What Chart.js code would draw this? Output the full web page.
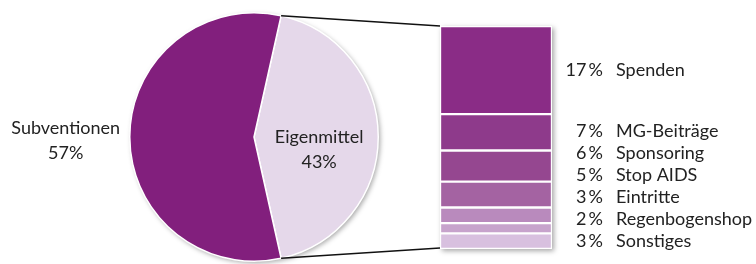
<!DOCTYPE html>
<html>
<head>
<meta charset="utf-8">
<script src="https://cdn.jsdelivr.net/npm/chart.js@4"></script>
<style>
  body { margin: 0; background: #fff; }
  #wrap { position: relative; width: 756px; height: 264px; }
  #wrap canvas { position: absolute; top: 0; }
</style>
</head>
<body>
<div id="wrap">
  <canvas id="pie" width="420" height="264" style="left:0"></canvas>
  <canvas id="bar" width="336" height="264" style="left:420px"></canvas>
  <canvas id="lines" width="756" height="264" style="left:0;pointer-events:none"></canvas>
</div>
<script>
// Gesamtfinanzierung
const pieLabels = ['Eigenmittel', 'Subventionen'];
const pieValues = [43, 57];
const pieColors = ['#E5D8EA', '#821F7D'];

// Aufteilung Eigenmittel
const barLabels = ['Spenden', 'MG-Beiträge', 'Sponsoring', 'Stop AIDS', 'Eintritte', 'Regenbogenshop', 'Sonstiges'];
const barValues = [17, 7, 6, 5, 3, 2, 3];
const barColors = ['#8A2C86', '#8E3A8B', '#954790', '#A463A2', '#B98ABD', '#C7A3CC', '#D8C0DF'];

const schrift = '"Source Sans Pro", Lato, sans-serif';
const textFarbe = '#222';
const pieTotal = pieValues.reduce((a, b) => a + b, 0);

// Schatten hinter Kreis bzw. Balken
const schatten = {
  id: 'schatten',
  beforeDatasetsDraw(chart) {
    const ctx = chart.ctx;
    const el = chart.getDatasetMeta(0).data[0];
    ctx.save();
    ctx.shadowColor = 'rgba(0,0,0,0.35)';
    ctx.shadowBlur = 5;
    ctx.shadowOffsetX = 2;
    ctx.shadowOffsetY = 2;
    ctx.fillStyle = '#fff';
    if (chart.config.type === 'pie') {
      ctx.beginPath();
      ctx.arc(el.x, el.y, el.outerRadius, 0, Math.PI * 2);
      ctx.fill();
    } else {
      const a = chart.chartArea;
      ctx.fillRect(a.left, a.top, a.right - a.left, a.bottom - a.top);
    }
    ctx.restore();
  }
};

// Beschriftung Kreis
const pieText = {
  id: 'pieText',
  afterDatasetsDraw(chart) {
    const ctx = chart.ctx;
    const arcs = chart.getDatasetMeta(0).data;
    ctx.save();
    ctx.font = '18px ' + schrift;
    ctx.fillStyle = textFarbe;
    ctx.textAlign = 'center';
    ctx.textBaseline = 'middle';
    arcs.forEach((arc, i) => {
      const pct = Math.round(pieValues[i] / pieTotal * 100) + '%';
      let x, y;
      if (i === 0) {
        const p = arc.getCenterPoint();
        x = p.x + 3; y = p.y;
      } else {
        const mid = (arc.startAngle + arc.endAngle) / 2;
        const r = arc.outerRadius + 64;
        x = arc.x + Math.cos(mid) * r;
        y = arc.y + Math.sin(mid) * r - 9;
      }
      ctx.fillText(pieLabels[i], x, y);
      ctx.fillText(pct, x, y + 25);
    });
    ctx.restore();
  }
};

// Beschriftung Balken, von unten nach oben ohne Überlappung
const barText = {
  id: 'barText',
  afterDatasetsDraw(chart) {
    const ctx = chart.ctx;
    const a = chart.chartArea;
    ctx.save();
    ctx.font = '18px ' + schrift;
    ctx.fillStyle = textFarbe;
    ctx.textBaseline = 'middle';
    let letzteY = Infinity;
    for (let i = barValues.length - 1; i >= 0; i--) {
      const el = chart.getDatasetMeta(i).data[0];
      const mitte = (el.y + el.base) / 2;
      const y = Math.min(mitte, letzteY - 22);
      letzteY = y;
      ctx.textAlign = 'right';
      ctx.fillText(barValues[i] + '\u2009%', a.right + 51, y);
      ctx.textAlign = 'left';
      ctx.fillText(barLabels[i], a.right + 64, y);
    }
    ctx.restore();
  }
};

const pieChart = new Chart(document.getElementById('pie'), {
  type: 'pie',
  data: {
    labels: pieLabels,
    datasets: [{
      data: pieValues,
      backgroundColor: pieColors,
      borderColor: '#fff',
      borderWidth: 1.5
    }]
  },
  options: {
    responsive: false,
    animation: false,
    rotation: 90 - pieValues[0] / pieTotal * 180,
    layout: { padding: { left: 129, right: 41, top: 12, bottom: 2 } },
    plugins: { legend: { display: false }, tooltip: { enabled: false } }
  },
  plugins: [schatten, pieText]
});

const barChart = new Chart(document.getElementById('bar'), {
  type: 'bar',
  data: {
    labels: ['Eigenmittel'],
    datasets: barLabels.map((l, i) => ({
      label: l,
      data: [barValues[i]],
      backgroundColor: barColors[i],
      borderColor: '#fff',
      borderWidth: 1.5,
      borderSkipped: false,
      categoryPercentage: 1,
      barPercentage: 1
    }))
  },
  options: {
    responsive: false,
    animation: false,
    layout: { padding: { left: 20, right: 204, top: 26, bottom: 15 } },
    scales: {
      x: { stacked: true, display: false },
      y: { stacked: true, display: false, reverse: true, min: 0, max: barValues.reduce((a, b) => a + b, 0) }
    },
    plugins: { legend: { display: false }, tooltip: { enabled: false } }
  },
  plugins: [schatten, barText]
});

// Verbindungslinien zwischen Kreis und Balken
const arc = pieChart.getDatasetMeta(0).data[0];
const area = barChart.chartArea;
const offX = 420;
const lctx = document.getElementById('lines').getContext('2d');
lctx.strokeStyle = '#111';
lctx.lineWidth = 1.5;
[[arc.startAngle, area.top], [arc.endAngle, area.bottom - 1]].forEach(([w, by]) => {
  lctx.beginPath();
  lctx.moveTo(arc.x + Math.cos(w) * arc.outerRadius, arc.y + Math.sin(w) * arc.outerRadius);
  lctx.lineTo(offX + area.left, by);
  lctx.stroke();
});
</script>
</body>
</html>
